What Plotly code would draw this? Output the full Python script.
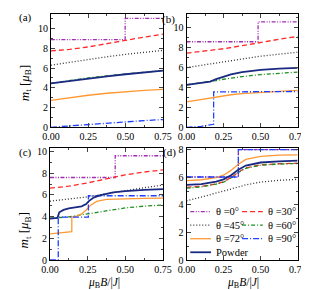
import plotly.graph_objects as go

# ---------------- data ----------------
angles = ["θ =0°", "θ =30°", "θ =45°", "θ =60°", "θ =72°", "θ =90°", "Powder"]

xg = [0, 0.125, 0.25, 0.375, 0.5, 0.625, 0.75]

# panel (a)
a_x0 = [0, 0.497, 0.497, 0.75]
a_y0 = [8.9, 8.9, 11.05, 11.05]
a_30 = [7.75, 7.9, 8.15, 8.5, 8.85, 9.15, 9.45]
a_45 = [6.3, 6.6, 6.9, 7.15, 7.4, 7.6, 7.8]
a_60 = [4.45, 4.74, 5.02, 5.22, 5.42, 5.6, 5.76]
a_72 = [2.72, 3.0, 3.25, 3.45, 3.62, 3.75, 3.85]
a_90 = [0.0, 0.15, 0.3, 0.45, 0.57, 0.68, 0.78]
a_pw = [4.45, 4.7, 4.96, 5.17, 5.38, 5.56, 5.74]

# panel (b)
bg = [0, 0.1, 0.16, 0.2, 0.25, 0.3, 0.375, 0.5, 0.625, 0.75]
b_x0 = [0, 0.483, 0.483, 0.75]
b_y0 = [8.6, 8.6, 10.6, 10.6]
b_30 = [7.45, 7.65, 7.9, 8.2, 8.55, 8.85, 9.13]
b_45 = [6.0, 6.3, 6.6, 6.9, 7.15, 7.35, 7.55]
b_60 = [4.27, 4.45, 4.6, 4.7, 4.83, 4.95, 5.1, 5.3, 5.45, 5.55]
b_72 = [2.55, 2.8, 2.98, 3.08, 3.18, 3.27, 3.38, 3.52, 3.62, 3.72]
b_x90 = [0, 0.1, 0.183, 0.183, 0.75]
b_y90 = [0.0, 0.1, 0.3, 3.55, 3.6]
b_pw = [4.27, 4.45, 4.6, 4.85, 5.12, 5.32, 5.55, 5.78, 5.9, 5.98]

# panel (c)
c_x0 = [0, 0.433, 0.433, 0.75]
c_y0 = [7.6, 7.6, 9.6, 9.6]
c_30 = [6.62, 6.8, 7.1, 7.45, 7.85, 8.1, 8.3]
c_45 = [5.42, 5.6, 5.82, 6.1, 6.4, 6.66, 6.9]
c_60 = [3.85, 3.98, 4.25, 4.55, 4.8, 4.96, 5.07]
c_x72 = [0, 0.145, 0.145, 0.18, 0.21, 0.24, 0.27, 0.31, 0.375, 0.5, 0.625, 0.75]
c_y72 = [2.4, 2.62, 3.95, 4.05, 4.25, 4.6, 5.05, 5.4, 5.58, 5.66, 5.68, 5.7]
c_x90 = [0, 0.055, 0.055, 0.255, 0.255, 0.75]
c_y90 = [0.0, 0.0, 3.95, 3.95, 5.92, 5.92]
c_xpw = [0, 0.05, 0.062, 0.09, 0.125, 0.17, 0.21, 0.24, 0.26, 0.29, 0.33, 0.42, 0.5, 0.625, 0.75]
c_ypw = [3.82, 3.88, 4.4, 4.62, 4.75, 4.85, 4.95, 5.15, 5.45, 5.75, 5.95, 6.22, 6.35, 6.46, 6.52]

# panel (d)
dg = [0, 0.1, 0.2, 0.25, 0.3, 0.35, 0.4, 0.5, 0.625, 0.75]
d_xs = [0, 0.35, 0.35, 0.75]
d_y0 = [6.02, 6.02, 8.0, 8.0]
d_30 = [5.27, 5.35, 5.52, 5.68, 5.98, 6.38, 6.68, 6.9, 6.98, 7.02]
d_45 = [4.28, 4.55, 4.85, 5.0, 5.15, 5.3, 5.45, 5.65, 5.78, 5.85]
d_60 = [5.22, 5.3, 5.5, 5.65, 5.95, 6.35, 6.65, 6.88, 6.96, 7.0]
d_72 = [5.76, 5.82, 5.98, 6.15, 6.5, 6.95, 7.3, 7.52, 7.6, 7.63]
d_y90 = [6.02, 6.02, 8.0, 8.0]
d_pw = [5.45, 5.5, 5.68, 5.85, 6.15, 6.55, 6.85, 7.07, 7.16, 7.2]

x_ticks = [0, 0.25, 0.5, 0.75]
x_ticklabels = ["0.00", "0.25", "0.50", "0.75"]
panel_labels = ["(a)", "(b)", "(c)", "(d)"]

# ---------------- styles ----------------
colors = ["#a030b0", "#ff2a2a", "#333333", "#1f8f1f", "#ff9933", "#2040ff", "#1a2a80"]
dashes = ["4px,1.5px,1px,1.5px,1px,1.5px", "5px,3px", "1px,2px", "4px,2px,1px,2px",
          "solid", "6px,2px,1px,2px", "solid"]
widths = [1.3, 1.3, 1.3, 1.3, 1.3, 1.3, 1.8]

W, H = 309, 290
def px(x):
    return x / W
def py(y):
    return 1 - y / H

panels = [
    ((36, 155), (3, 120), 11.5, [
        (a_x0, a_y0), (xg, a_30), (xg, a_45), (xg, a_60), (xg, a_72), (xg, a_90), (xg, a_pw)]),
    ((180, 298), (3, 120), 11.4, [
        (b_x0, b_y0), (xg, b_30), (xg, b_45), (bg, b_60), (bg, b_72), (b_x90, b_y90), (bg, b_pw)]),
    ((35, 155), (141, 257), 10.35, [
        (c_x0, c_y0), (xg, c_30), (xg, c_45), (xg, c_60), (c_x72, c_y72), (c_x90, c_y90), (c_xpw, c_ypw)]),
    ((180, 298), (141, 257), 8.15, [
        (d_xs, d_y0), (dg, d_30), (dg, d_45), (dg, d_60), (dg, d_72), (d_xs, d_y90), (dg, d_pw)]),
]

fig = go.Figure()
font_family = "Liberation Serif"

for i, (xd, yd, ymax, series) in enumerate(panels):
    n = "" if i == 0 else str(i + 1)
    for k, (xs, ys) in enumerate(series):
        fig.add_trace(go.Scatter(
            x=xs, y=ys, mode="lines", name=angles[k], showlegend=False,
            line=dict(color=colors[k], dash=dashes[k], width=widths[k]),
            xaxis="x" + n, yaxis="y" + n))
    ax = dict(domain=[px(xd[0]), px(xd[1])], range=[0, 0.75], tickvals=x_ticks,
              ticktext=x_ticklabels, ticks="inside", ticklen=4, mirror="ticks",
              showline=True, linecolor="black", linewidth=1, showgrid=False,
              zeroline=False, tickfont=dict(size=10, family=font_family, color="black"),
              minor=dict(ticks="inside", ticklen=2, dtick=0.125, tick0=0),
              ticklabeloverflow="allow", anchor="y" + n)
    ay = dict(domain=[py(yd[1]), py(yd[0])], range=[0, ymax], dtick=2, tick0=0,
              ticks="inside", ticklen=4, mirror="ticks", showline=True,
              linecolor="black", linewidth=1, showgrid=False, zeroline=False,
              tickfont=dict(size=10, family=font_family, color="black"),
              minor=dict(ticks="inside", ticklen=2, dtick=1, tick0=0),
              anchor="x" + n)
    fig.layout["xaxis" + n] = ax
    fig.layout["yaxis" + n] = ay

annotations = []
label_pos = [(9, 7), (161, 9), (9, 146), (162, 146)]
for lab, (lx, ly) in zip(panel_labels, label_pos):
    annotations.append(dict(text=lab, x=px(lx), y=py(ly), xref="paper", yref="paper",
                            showarrow=False, xanchor="center", yanchor="middle",
                            font=dict(size=11, family=font_family, color="black")))

ytitle = "<i>m</i><sub>t</sub> [<i>μ</i><sub>B</sub>]"
for yc in (74, 226):
    annotations.append(dict(text=ytitle, x=px(9), y=py(yc), xref="paper", yref="paper",
                            showarrow=False, textangle=-90, xanchor="center", yanchor="middle",
                            font=dict(size=13, family=font_family, color="black")))
xtitle = "<i>μ</i><sub>B</sub><i>B</i>/|<i>J</i>|"
for xc in (92, 240):
    annotations.append(dict(text=xtitle, x=px(xc), y=py(290), xref="paper", yref="paper",
                            showarrow=False, xanchor="center", yanchor="bottom",
                            font=dict(size=11.5, family=font_family, color="black")))

# manual two-column legend in panel (d)
shapes = []
rows_y = [207, 221, 235, 249]
cols_x = [184, 239]
for k, name in enumerate(angles):
    r, c = divmod(k, 2)
    x0 = cols_x[c]
    yy = rows_y[r]
    shapes.append(dict(type="line", xref="paper", yref="paper",
                       x0=px(x0), x1=px(x0 + 22), y0=py(yy), y1=py(yy),
                       line=dict(color=colors[k], dash=dashes[k], width=widths[k])))
    annotations.append(dict(text=name, x=px(x0 + 25), y=py(yy), xref="paper", yref="paper",
                            showarrow=False, xanchor="left", yanchor="middle",
                            font=dict(size=10.5, family=font_family, color="black")))

fig.update_layout(width=W, height=H, margin=dict(l=0, r=0, t=0, b=0),
                  paper_bgcolor="white", plot_bgcolor="white",
                  font=dict(family=font_family),
                  annotations=annotations, shapes=shapes, showlegend=False)

fig.write_html("out.html")
